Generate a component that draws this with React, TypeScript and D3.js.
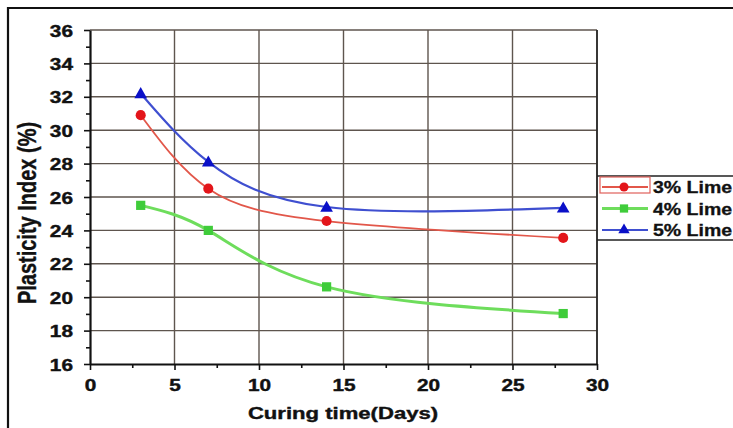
import * as d3 from 'd3';
import { useEffect, useRef } from 'react';

const days = [3, 7, 14, 28];
const lime3 = [30.9, 26.5, 24.56, 23.55];
const lime4 = [25.5, 24.0, 20.62, 19.02];
const lime5 = [32.2, 28.1, 25.4, 25.35];
const seriesNames = ["3% Lime", "4% Lime", "5% Lime"];
const xTicks = [0, 5, 10, 15, 20, 25, 30];
const yTicks = [16, 18, 20, 22, 24, 26, 28, 30, 32, 34, 36];

const App = () => {
    const ref = useRef<SVGSVGElement>(null);
    useEffect(() => {
        document.body.style.margin = "0";
        DrawChart();
    }, []);
    const DrawChart = () => {
        var svg = d3.select(ref.current);
        svg.selectAll("*").remove();
        var left = 90, right = 597, top = 30, bottom = 364;
        var x: any = d3.scaleLinear().domain([0, 30]).range([left, right]);
        var y: any = d3.scaleLinear().domain([16, 36]).range([bottom, top]);
        var font = "'Liberation Sans', Arial, sans-serif";
        var sx = 1.3; // the picture's text is stretched sideways

        svg.append("rect").attr("width", 733).attr("height", 428).attr("fill", "#fff");
        // outer frame (cut off at right and bottom)
        svg.append("path").attr("d", "M8,428 V8 H733").attr("fill", "none")
            .attr("stroke", "#111").attr("stroke-width", 2.2);

        // grid
        var grid = svg.append("g").attr("stroke", "#5e554e").attr("stroke-width", 1.4);
        xTicks.slice(1).forEach(t => {
            grid.append("line").attr("x1", x(t)).attr("x2", x(t)).attr("y1", top).attr("y2", bottom);
        });
        yTicks.slice(1).forEach(t => {
            grid.append("line").attr("x1", left).attr("x2", right).attr("y1", y(t)).attr("y2", y(t));
        });
        svg.append("line").attr("x1", right).attr("x2", right).attr("y1", top).attr("y2", bottom)
            .attr("stroke", "#222").attr("stroke-width", 1.6);

        // axes
        var xAxis = svg.append("g").attr("transform", "translate(0," + bottom + ")")
            .call(d3.axisBottom(x).tickValues(xTicks).tickSize(6).tickSizeOuter(0).tickFormat((d: any) => d));
        xAxis.selectAll(".tick text").attr("y", 0).attr("dy", 0)
            .attr("transform", "translate(0,27) scale(" + sx + ",1)");
        svg.append("g").attr("transform", "translate(0," + bottom + ")")
            .call(d3.axisBottom(x).tickValues(d3.range(2.5, 30, 5)).tickSize(4).tickFormat(() => ""))
            .select(".domain").remove();
        var yAxis = svg.append("g").attr("transform", "translate(" + left + ",0)")
            .call(d3.axisLeft(y).tickValues(yTicks).tickSize(6).tickSizeOuter(0));
        yAxis.selectAll(".tick text").attr("x", 0).attr("dy", 0)
            .attr("transform", "translate(-17,6) scale(" + sx + ",1)");
        svg.append("g").attr("transform", "translate(" + left + ",0)")
            .call(d3.axisLeft(y).tickValues(d3.range(17, 36, 2)).tickSize(4).tickFormat(() => ""))
            .select(".domain").remove();
        svg.selectAll(".domain").attr("stroke", "#111").attr("stroke-width", 2.2);
        svg.selectAll(".tick line").attr("stroke", "#111").attr("stroke-width", 1.6);
        svg.selectAll(".tick text").attr("fill", "#111").attr("stroke", "#111").attr("stroke-width", 0.4)
            .style("font-family", font).style("font-size", "16px").style("font-weight", "bold");

        // titles
        svg.append("text").attr("text-anchor", "middle")
            .attr("transform", "translate(36,213) scale(" + sx + ",1) rotate(-90)")
            .style("font-family", font).style("font-size", "20px").style("font-weight", "bold")
            .attr("fill", "#111").attr("stroke", "#111").attr("stroke-width", 0.3).text("Plasticity Index (%)");
        svg.append("text").attr("text-anchor", "middle")
            .attr("transform", "translate(343,419) scale(" + sx + ",1)")
            .style("font-family", font).style("font-size", "17px").style("font-weight", "bold")
            .attr("fill", "#111").attr("stroke", "#111").attr("stroke-width", 0.4).text("Curing time(Days)");

        var series = [
            { name: seriesNames[0], vals: lime3, line: "#e2574a", mark: "#e3151a", w: 1.8, shape: "circle" },
            { name: seriesNames[1], vals: lime4, line: "#6edd5c", mark: "#3fcc3a", w: 3, shape: "square" },
            { name: seriesNames[2], vals: lime5, line: "#3f4fd0", mark: "#0a10c8", w: 2.2, shape: "triangle" },
        ];
        var line = d3.line<number>()
            .x((d, i) => x(days[i]))
            .y(d => y(d))
            .curve(d3.curveNatural);
        var symbolOf = (s: string) => s == "circle" ? d3.symbolCircle : s == "square" ? d3.symbolSquare : d3.symbolTriangle;
        var sizeOf = (s: string) => s == "circle" ? 80 : s == "square" ? 85 : 70;

        series.forEach(s => {
            svg.append("path").attr("d", line(s.vals)).attr("fill", "none")
                .attr("stroke", s.line).attr("stroke-width", s.w);
            svg.selectAll(null).data(s.vals).enter().append("path")
                .attr("transform", (d: any, i: number) => "translate(" + x(days[i]) + "," + (y(d) + (s.shape == "triangle" ? 1 : 0)) + ")")
                .attr("d", d3.symbol().type(symbolOf(s.shape)).size(sizeOf(s.shape)))
                .attr("fill", s.mark);
        });

        // legend
        var lg = svg.append("g");
        lg.append("path").attr("d", "M597,176 H733 M597,240 H733").attr("stroke", "#222").attr("stroke-width", 1.5);
        lg.append("rect").attr("x", 600).attr("y", 177).attr("width", 50).attr("height", 16)
            .attr("fill", "none").attr("stroke", "#e0605a").attr("stroke-width", 1.2);
        series.forEach((s, i) => {
            var ly = 187 + i * 21.5;
            lg.append("line").attr("x1", 602).attr("x2", 648).attr("y1", ly).attr("y2", ly)
                .attr("stroke", s.line).attr("stroke-width", s.w);
            lg.append("path").attr("transform", "translate(624," + ly + ")")
                .attr("d", d3.symbol().type(symbolOf(s.shape)).size(sizeOf(s.shape) * 0.8))
                .attr("fill", s.mark);
            lg.append("text").attr("transform", "translate(653," + (ly + 6) + ") scale(1.22,1)")
                .style("font-family", font).style("font-size", "16px").style("font-weight", "bold")
                .attr("fill", "#111").attr("stroke", "#111").attr("stroke-width", 0.3).text(s.name);
        });
    }
    return (
        <>
            <svg ref={ref} width={733} height={428} style={{ display: "block" }}></svg>
        </>
    )
}
export default App;
